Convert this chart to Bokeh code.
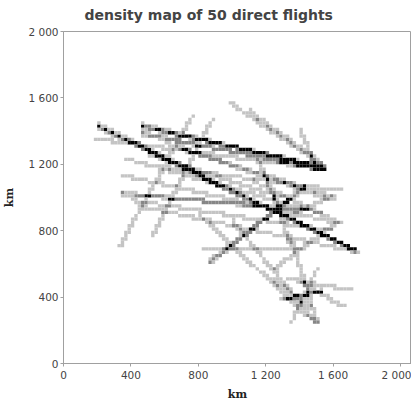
import numpy as np
from bokeh.plotting import figure
from bokeh.models import Range1d, FixedTicker, ColumnDataSource, Title
from bokeh.embed import file_html
from bokeh.resources import INLINE

# flight endpoints (km)
origin_x = [200, 215, 460, 475, 470, 460, 470, 990, 1100, 1410, 190, 760, 880,
            370, 345, 340, 350, 400, 445, 860, 870, 1240, 830, 810, 1000, 1350,
            1330, 1290, 1300, 1400, 600, 700, 500, 1157, 1250, 1580, 1120, 620,
            1250, 1500, 205]
origin_y = [1430, 1440, 1430, 1420, 1440, 1390, 1380, 1570, 1520, 1400, 1355, 1480, 1460,
            1235, 1135, 1030, 1020, 985, 950, 610, 600, 560, 690, 890, 860, 760,
            510, 390, 380, 500, 1330, 1300, 1260, 1223, 1000, 1000, 1100, 1180,
            500, 560, 1425]
dest_x = [1730, 1720, 1540, 1530, 1550, 1540, 1520, 1540, 1530, 1490, 1540, 330, 520,
          1530, 1610, 1410, 1420, 1590, 1730, 1425, 1420, 1625, 1400, 1500, 1500, 1500,
          1710, 1520, 1530, 1660, 1610, 1600, 1300, 1258, 1350, 1300, 1640, 1650,
          1470, 1350, 1740]
dest_y = [680, 690, 1180, 1190, 1175, 1165, 1175, 1190, 1210, 1190, 1170, 700, 760,
          905, 850, 920, 930, 800, 675, 1050, 1060, 850, 690, 240, 250, 260,
          440, 430, 440, 340, 1000, 980, 1000, 982, 700, 870, 850, 1040,
          340, 240, 675]

tick_values = [0, 400, 800, 1200, 1600, 2000]
tick_labels = ["0", "400", "800", "1 200", "1 600", "2 000"]
title_text = "density map of 50 direct flights"
axis_label = "km"

CELL = 20.0
counts = {}
for ox, oy, dx, dy in zip(origin_x, origin_y, dest_x, dest_y):
    n = int(max(abs(dx - ox), abs(dy - oy)) / CELL * 6) + 2
    t = np.linspace(0.0, 1.0, n)
    xs = np.floor((ox + (dx - ox) * t) / CELL).astype(int)
    ys = np.floor((oy + (dy - oy) * t) / CELL).astype(int)
    for c in set(zip(xs.tolist(), ys.tolist())):
        counts[c] = counts.get(c, 0) + 1

palette = ["#c4c4c4", "#868686", "#000000"]
left, right, bottom, top, color = [], [], [], [], []
for (i, j), c in counts.items():
    left.append(i * CELL)
    right.append((i + 1) * CELL)
    bottom.append(j * CELL)
    top.append((j + 1) * CELL)
    color.append(palette[min(c, 3) - 1])
src = ColumnDataSource(dict(left=left, right=right, bottom=bottom, top=top, color=color))

p = figure(frame_width=348, frame_height=332, output_backend="svg", toolbar_location=None,
           x_range=Range1d(0, 2065), y_range=Range1d(0, 2000),
           min_border_left=0, min_border_right=0, min_border_top=0, min_border_bottom=0,
           background_fill_color="white", border_fill_color="white")
p.quad(left="left", right="right", bottom="bottom", top="top", fill_color="color",
       line_color=None, source=src)

p.title.text = title_text
p.title.text_font = "DejaVu Sans"
p.title.text_font_style = "bold"
p.title.text_font_size = "14px"
p.title.align = "left"
p.title.offset = 21
p.title.standoff = 8
# thin spacer above the title
p.add_layout(Title(text=" ", text_font_size="3px", standoff=0), "above")

p.grid.visible = False
p.outline_line_color = "#a0a0a0"
for ax in (p.xaxis[0], p.yaxis[0]):
    ax.ticker = FixedTicker(ticks=tick_values)
    ax.major_label_overrides = {v: s for v, s in zip(tick_values, tick_labels)}
    ax.axis_label = axis_label
    ax.axis_label_text_font = "DejaVu Serif"
    ax.axis_label_text_font_style = "bold"
    ax.axis_label_text_font_size = "11px"
    ax.axis_label_text_color = "#222222"
    ax.major_label_text_font = "DejaVu Sans"
    ax.major_label_text_font_size = "10.5px"
    ax.major_label_text_color = "#444444"
    ax.axis_line_color = "#a0a0a0"
    ax.major_tick_line_color = "#a0a0a0"
    ax.major_tick_in = 0
    ax.major_tick_out = 3
    ax.minor_tick_line_color = None
    ax.major_label_standoff = 2
p.xaxis[0].axis_label_standoff = 4
p.yaxis[0].axis_label_standoff = 9

open("out.html", "w").write(file_html(p, INLINE))
